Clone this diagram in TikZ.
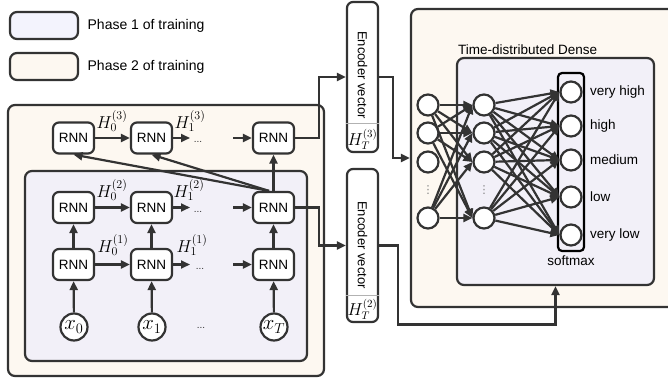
\documentclass[tikz,border=0pt]{standalone}
\usepackage{fontspec}
\setmainfont{Liberation Sans}
\newfontfamily\simbolos{DejaVu Sans}
\usetikzlibrary{arrows.meta,positioning}

\definecolor{linea}{HTML}{333333}
\definecolor{fase1}{HTML}{F2F0F8}
\definecolor{fase2}{HTML}{FDF8F1}
\definecolor{ley1}{HTML}{F3F3FD}

\tikzset{
  caja/.style={draw=linea, line width=2.2pt, rounded corners=7pt, inner sep=0pt},
  rnn/.style={draw=linea, fill=white, line width=2.2pt, rounded corners=6pt,
    minimum width=41pt, minimum height=31pt, inner sep=0pt,
    font=\fontsize{13.5}{16}\selectfont},
  entrada/.style={circle, draw=linea, fill=white, line width=2.2pt,
    minimum size=27pt, inner sep=0pt, font=\fontsize{21}{24}\selectfont},
  neurona/.style={circle, draw=linea, fill=white, line width=2.2pt,
    minimum size=21pt, inner sep=0pt},
  flecha/.style={draw=linea, line width=2.2pt, -{Triangle[length=9pt,width=8pt]}},
  etiq/.style={font=\fontsize{17}{20}\selectfont, inner sep=0pt},
  texto/.style={font=\fontsize{13.5}{16}\selectfont},
  puntos/.style={font=\fontsize{10}{12}\selectfont, text=linea, inner sep=0pt},
  vpuntos/.style={font=\simbolos\fontsize{11}{12}\selectfont, text=gray, inner sep=0pt},
}

\begin{document}
\begin{tikzpicture}[x=1pt, y=-1pt]
  \useasboundingbox (0,0) rectangle (668,379);

  % Leyenda
  \node[caja, fill=ley1, minimum width=68pt, minimum height=27pt] (ley1) at (44,25.5) {};
  \node[right=5pt of ley1, font=\fontsize{14}{16}\selectfont] (tley1) {Phase 1 of training};
  \node[caja, fill=fase2, minimum width=68pt, minimum height=27pt] (ley2) at (44,66.5) {};
  \node[right=5pt of ley2, font=\fontsize{14}{16}\selectfont] (tley2) {Phase 2 of training};

  % Cajas del codificador
  \node[caja, fill=fase2, minimum width=316pt, minimum height=271pt] (fase2izq) at (166,240.5) {};
  \node[caja, fill=fase1, minimum width=282pt, minimum height=190pt] (fase1izq) at (166,266) {};

  % Celdas RNN
  \node[rnn] (r3a) at (73.5,138) {RNN};
  \node[rnn] (r3b) at (151.5,138) {RNN};
  \node[rnn] (r3t) at (273.5,138) {RNN};
  \node[rnn] (r2a) at (73.5,207.5) {RNN};
  \node[rnn] (r2b) at (151.5,207.5) {RNN};
  \node[rnn] (r2t) at (273.5,207.5) {RNN};
  \node[rnn] (r1a) at (73.5,264.5) {RNN};
  \node[rnn] (r1b) at (151.5,264.5) {RNN};
  \node[rnn] (r1t) at (273.5,264.5) {RNN};

  % Entradas
  \node[entrada] (x0) at (74,327) {$x_0$};
  \node[entrada] (x1) at (152,327) {$x_1$};
  \node[entrada] (xT) at (274,327) {$x_T$};
  \node[puntos] (dx) at (201,328) {...};

  % Flechas verticales
  \draw[flecha] (x0) -- (r1a);
  \draw[flecha] (x1) -- (r1b);
  \draw[flecha] (xT) -- (r1t);
  \draw[flecha] (r1a) -- (r2a);
  \draw[flecha] (r1b) -- (r2b);
  \draw[flecha] (r1t) -- (r2t);
  \draw[flecha] (r2t.north) -- (r3t.south);
  \draw[flecha] (r2t.105) -- (r3a.south);
  \draw[flecha] (r2t.105) -- (r3b.south);

  % Flechas horizontales
  \coordinate (p3) at (190,138);
  \coordinate (q3) at (233,138);
  \coordinate (p2) at (190,207.5);
  \coordinate (q2) at (233,207.5);
  \coordinate (p1) at (190,264.5);
  \coordinate (q1) at (233,264.5);
  \draw[flecha] (r3a) -- (r3b);
  \draw[flecha] (r3b) -- (p3);
  \draw[flecha] (q3) -- (r3t);
  \draw[flecha] (r2a) -- (r2b);
  \draw[flecha] (r2b) -- (p2);
  \draw[flecha] (q2) -- (r2t);
  \draw[flecha] (r1a) -- (r1b);
  \draw[flecha] (r1b) -- (p1);
  \draw[flecha] (q1) -- (r1t);
  \node[puntos] (d3) at (198,142) {...};
  \node[puntos] (d2) at (198,211.5) {...};
  \node[puntos] (d1) at (200,268.5) {...};

  % Estados ocultos
  \node[etiq] (h30) at (112,121) {$H_0^{(3)}$};
  \node[etiq] (h31) at (190,121) {$H_1^{(3)}$};
  \node[etiq] (h20) at (112,190) {$H_0^{(2)}$};
  \node[etiq] (h21) at (189,190) {$H_1^{(2)}$};
  \node[etiq] (h10) at (113,245) {$H_0^{(1)}$};
  \node[etiq] (h11) at (192,245) {$H_1^{(1)}$};

  % Vectores del codificador
  \node[caja, fill=white, rounded corners=6pt, minimum width=31pt, minimum height=150pt] (enc3) at (362.5,77) {};
  \draw[gray!60, line width=0.8pt] (enc3.west |- 0,123) -- (enc3.east |- 0,123);
  \node[texto, rotate=-90, font=\fontsize{13}{15}\selectfont] (tenc3) at (362.5,75) {Encoder vector};
  \node[font=\fontsize{16}{18}\selectfont] (henc3) at (362.5,139) {$H_T^{(3)}$};
  \node[caja, fill=white, rounded corners=6pt, minimum width=31pt, minimum height=153pt] (enc2) at (362.5,245.5) {};
  \draw[gray!60, line width=0.8pt] (enc2.west |- 0,295) -- (enc2.east |- 0,295);
  \node[texto, rotate=-90, font=\fontsize{13}{15}\selectfont] (tenc2) at (362.5,245) {Encoder vector};
  \node[font=\fontsize{16}{18}\selectfont] (henc2) at (362.5,309) {$H_T^{(2)}$};

  \draw[flecha] (r3t.east) -- ++(24,0) |- (enc3.west);
  \draw[flecha] (r2t.east) -- ++(24,0) |- (enc2.west);

  % Capa densa
  \node[caja, fill=fase2, minimum width=278pt, minimum height=298pt] (fase2der) at (550,158) {};
  \node[caja, fill=fase1, minimum width=197pt, minimum height=227pt] (densa) at (555.5,171.5) {};
  \node[texto, anchor=south west, inner sep=2pt] (tdensa) at (densa.north west) {Time-distributed Dense};

  \draw[flecha] (enc3.east) -- ++(14,0) |- (fase2der.west);
  \draw[flecha] (enc2.east) -- ++(19,0) -- ++(0,79) -| (densa.south);

  % Neuronas
  \node[neurona] (i1) at (428,105) {};
  \node[neurona] (i2) at (428,133) {};
  \node[neurona] (i3) at (428,162) {};
  \node[neurona] (i4) at (428,218) {};
  \node[vpuntos] (di) at (428,190) {⋮};
  \node[neurona] (n1) at (484,105) {};
  \node[neurona] (n2) at (484,133) {};
  \node[neurona] (n3) at (484,162) {};
  \node[neurona] (n4) at (484,218) {};
  \node[vpuntos] (dn) at (484,190) {⋮};

  \node[draw=black, line width=2.2pt, rounded corners=4pt, minimum width=26pt, minimum height=178pt] (smx) at (571,162) {};
  \node[neurona] (o1) at (571,92) {};
  \node[neurona] (o2) at (571,126) {};
  \node[neurona] (o3) at (571,160) {};
  \node[neurona] (o4) at (571,197) {};
  \node[neurona] (o5) at (571,235) {};
  \node[texto, right=4pt of o1] (to1) {very high};
  \node[texto, right=4pt of o2] (to2) {high};
  \node[texto, right=4pt of o3] (to3) {medium};
  \node[texto, right=4pt of o4] (to4) {low};
  \node[texto, right=4pt of o5] (to5) {very low};
  \node[texto, below=0pt of smx] (tsmx) {softmax};

  \foreach \a in {i1,i2,i4}
    \foreach \b in {n1,n2,n3,n4}
      \draw[flecha] (\a) -- (\b.west);
  \foreach \a in {n1,n2,n3,n4}
    \foreach \b in {o1,o2,o3,o4,o5}
      \draw[flecha] (\a) -- (\b.west);
\end{tikzpicture}
\end{document}
